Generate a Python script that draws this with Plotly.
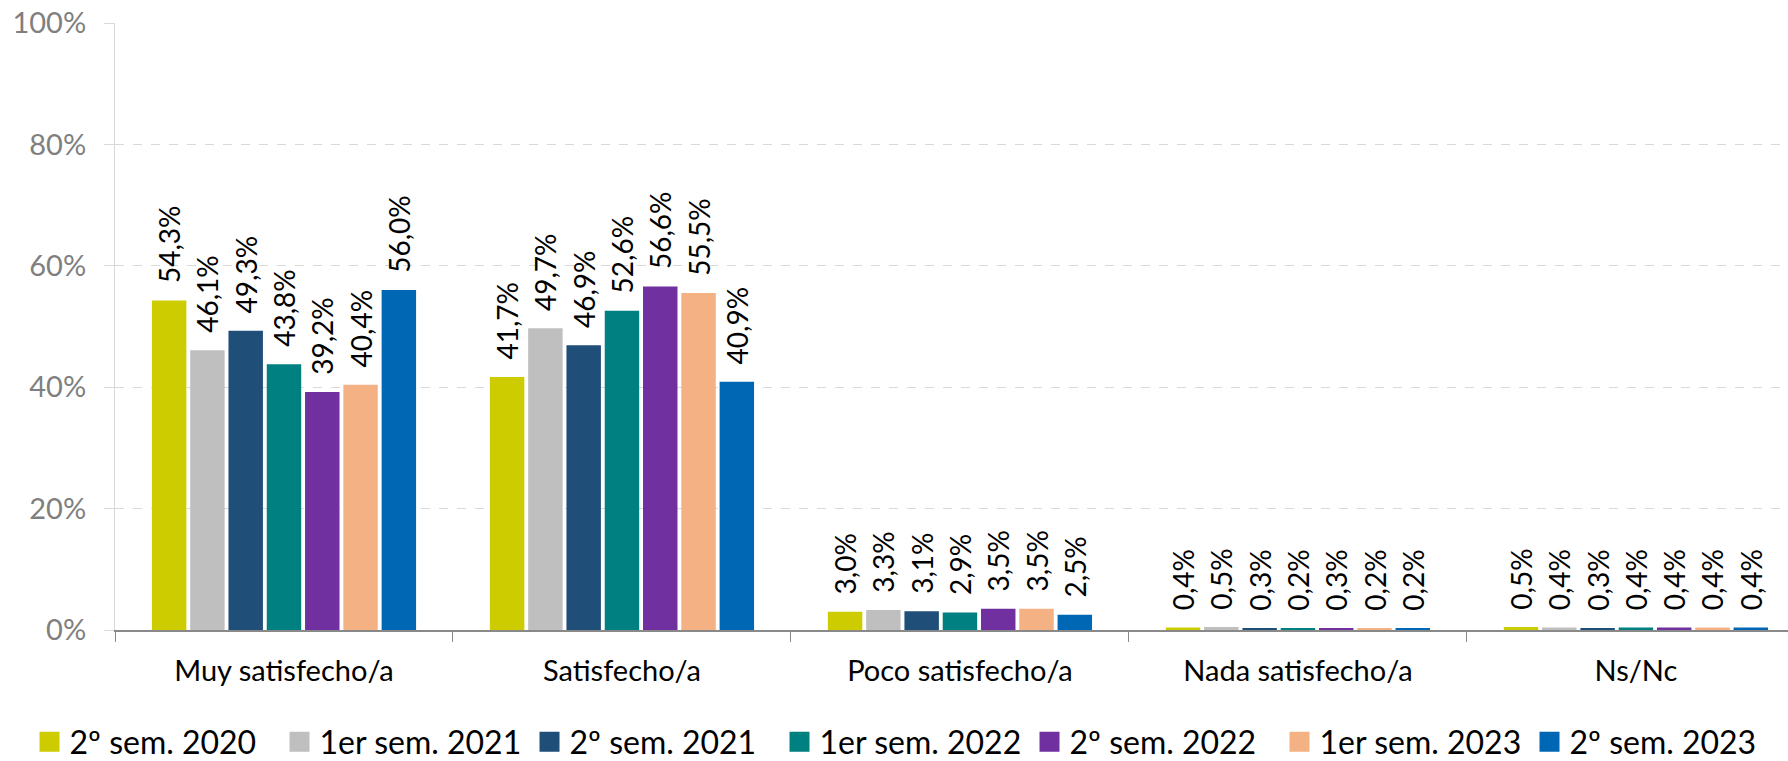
import plotly.graph_objects as go

categories = ["Muy satisfecho/a", "Satisfecho/a", "Poco satisfecho/a", "Nada satisfecho/a", "Ns/Nc"]
series_names = ["2º sem. 2020", "1er sem. 2021", "2º sem. 2021", "1er sem. 2022",
                "2º sem. 2022", "1er sem. 2023", "2º sem. 2023"]
colors = ["#CCCC00", "#BFBFBF", "#1F4E79", "#008080", "#7030A0", "#F4B183", "#0067B4"]

s2020_2 = [54.3, 41.7, 3.0, 0.4, 0.5]
s2021_1 = [46.1, 49.7, 3.3, 0.5, 0.4]
s2021_2 = [49.3, 46.9, 3.1, 0.3, 0.3]
s2022_1 = [43.8, 52.6, 2.9, 0.2, 0.4]
s2022_2 = [39.2, 56.6, 3.5, 0.3, 0.4]
s2023_1 = [40.4, 55.5, 3.5, 0.2, 0.4]
s2023_2 = [56.0, 40.9, 2.5, 0.2, 0.4]
series_values = [s2020_2, s2021_1, s2021_2, s2022_1, s2022_2, s2023_1, s2023_2]

FONT = "Lato"
FS_LABEL = 28
FS = 29
FS_LEG = 32

fig = go.Figure()
for name, vals, col in zip(series_names, series_values, colors):
    fig.add_trace(go.Bar(
        x=categories, y=vals, name=name, marker_color=col,
        marker_line_width=0,
        text=["\u00a0\u00a0" + f"{v:.1f}".replace(".", ",") + "%" for v in vals],
        textposition="outside", textangle=-90, constraintext="none",
        cliponaxis=False,
        textfont=dict(family=FONT, size=FS_LABEL, color="#000000"),
        showlegend=False,
    ))
# legend proxies with larger square symbols
for name, col in zip(series_names, colors):
    fig.add_trace(go.Scatter(
        x=[None], y=[None], mode="markers", name=name,
        marker=dict(symbol="square", size=16, color=col, line=dict(width=4, color=col)),
        showlegend=True,
    ))

fig.update_layout(
    width=1788, height=761,
    margin=dict(l=115, r=0, t=23, b=131, autoexpand=False),
    plot_bgcolor="white", paper_bgcolor="white",
    barmode="group", bargap=0.207, bargroupgap=0.1,
    font=dict(family=FONT, size=FS, color="#000000"),
    legend=dict(orientation="h",
                x=-0.0511, xanchor="left", y=-0.1845, yanchor="middle",
                font=dict(family=FONT, size=FS_LEG, color="#000000"),
                itemwidth=30, tracegroupgap=0, itemclick=False,
                entrywidth=205, entrywidthmode="pixels"),
    xaxis=dict(
        type="category", range=[-0.5, 4.45], automargin=False,
        showline=True, linecolor="#898989", linewidth=1.5,
        ticks="outside", tickson="boundaries", ticklen=10, tickcolor="#898989",
        showgrid=False, tickfont=dict(family=FONT, size=FS, color="#000000"),
        ticklabelstandoff=14,
    ),
    yaxis=dict(
        range=[0, 100], tickvals=[0, 20, 40, 60, 80, 100], automargin=False,
        ticktext=["0%", "20%", "40%", "60%", "80%", "100%"],
        showgrid=True, gridcolor="#D9D9D9", griddash="dash", gridwidth=1,
        showline=True, linecolor="#D9D9D9", linewidth=1,
        ticks="outside", ticklen=10, tickcolor="#D9D9D9",
        tickfont=dict(family=FONT, size=FS, color="#7F7F7F"),
        zeroline=False, ticklabelstandoff=12,
    ),
)

fig.write_html("out.html", config={"displayModeBar": False},
               post_script="document.body.style.margin='0';")
